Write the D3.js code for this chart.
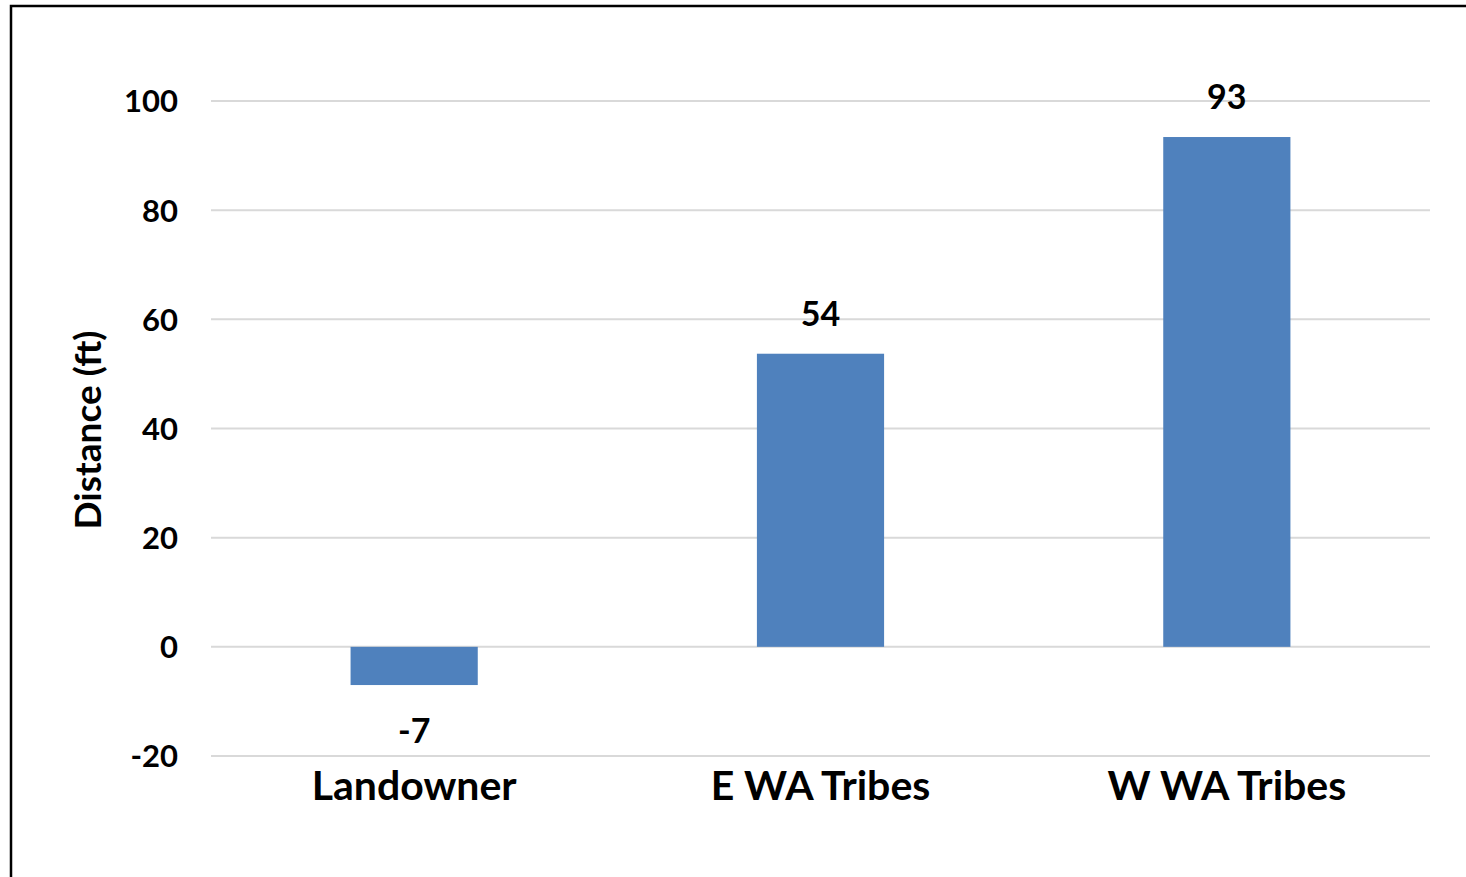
<!DOCTYPE html>
<html>
<head>
<meta charset="utf-8">
<script src="https://cdn.jsdelivr.net/npm/d3@7"></script>
<style>
  body { margin: 0; background: #fff; }
  svg text { font-family: Lato, "Open Sans", sans-serif; font-weight: bold; fill: #000; }
</style>
</head>
<body>
<svg id="chart" width="1466" height="877"></svg>
<script>
// datos del grafico
var categories = ["Landowner", "E WA Tribes", "W WA Tribes"];
var values = [-7.0, 53.7, 93.4];
var yTicks = [-20, 0, 20, 40, 60, 80, 100];

// formato con guion normal en vez de signo menos
var fmt = d3.formatLocale({ decimal: ".", thousands: ",", grouping: [3], currency: ["", ""], minus: "-" }).format(".0f");

var svg = d3.select("#chart");

// marco
svg.append("path")
  .attr("d", "M11,877 V6 H1466")
  .attr("fill", "none")
  .attr("stroke", "#000")
  .attr("stroke-width", 2.5);

var plotLeft = 211, plotRight = 1430, plotTop = 101, plotBottom = 756;

var y = d3.scaleLinear().domain([-20, 100]).range([plotBottom, plotTop]);
var x = d3.scaleBand().domain(categories).range([plotLeft, plotRight]).paddingInner(0.687).paddingOuter(0.3435);

// lineas de la rejilla
svg.append("g").selectAll("line").data(yTicks).enter()
  .append("line")
  .attr("x1", plotLeft).attr("x2", plotRight)
  .attr("y1", function(d) { return y(d); })
  .attr("y2", function(d) { return y(d); })
  .attr("stroke", "#d9d9d9")
  .attr("stroke-width", 2);

// eje y
var yAxis = svg.append("g")
  .attr("transform", "translate(" + (plotLeft - 33) + ",0)")
  .call(d3.axisLeft(y).tickValues(yTicks).tickFormat(fmt).tickSize(0).tickPadding(0));
yAxis.select(".domain").remove();
yAxis.selectAll("text").style("font-size", "31px").attr("dy", "0.35em");

// barras
svg.append("g").selectAll("rect").data(values).enter()
  .append("rect")
  .attr("x", function(d, i) { return x(categories[i]); })
  .attr("width", x.bandwidth())
  .attr("y", function(d) { return y(Math.max(0, d)); })
  .attr("height", function(d) { return Math.abs(y(d) - y(0)); })
  .attr("fill", "#4F81BD");

// etiquetas de datos
svg.append("g").selectAll("text").data(values).enter()
  .append("text")
  .attr("x", function(d, i) { return x(categories[i]) + x.bandwidth() / 2; })
  .attr("y", function(d) { return d >= 0 ? y(d) - 28 : y(d) + 58; })
  .attr("text-anchor", "middle")
  .style("font-size", "34px")
  .text(function(d) { return fmt(d); });

// eje x
var xAxis = svg.append("g")
  .attr("transform", "translate(0," + (plotBottom + 44) + ")")
  .call(d3.axisBottom(x).tickSize(0).tickPadding(0));
xAxis.select(".domain").remove();
xAxis.selectAll("text").style("font-size", "41px").attr("dy", "0");

// titulo del eje y
svg.append("text")
  .attr("transform", "translate(101,430) rotate(-90)")
  .attr("text-anchor", "middle")
  .style("font-size", "37px")
  .text("Distance (ft)");
</script>
</body>
</html>
